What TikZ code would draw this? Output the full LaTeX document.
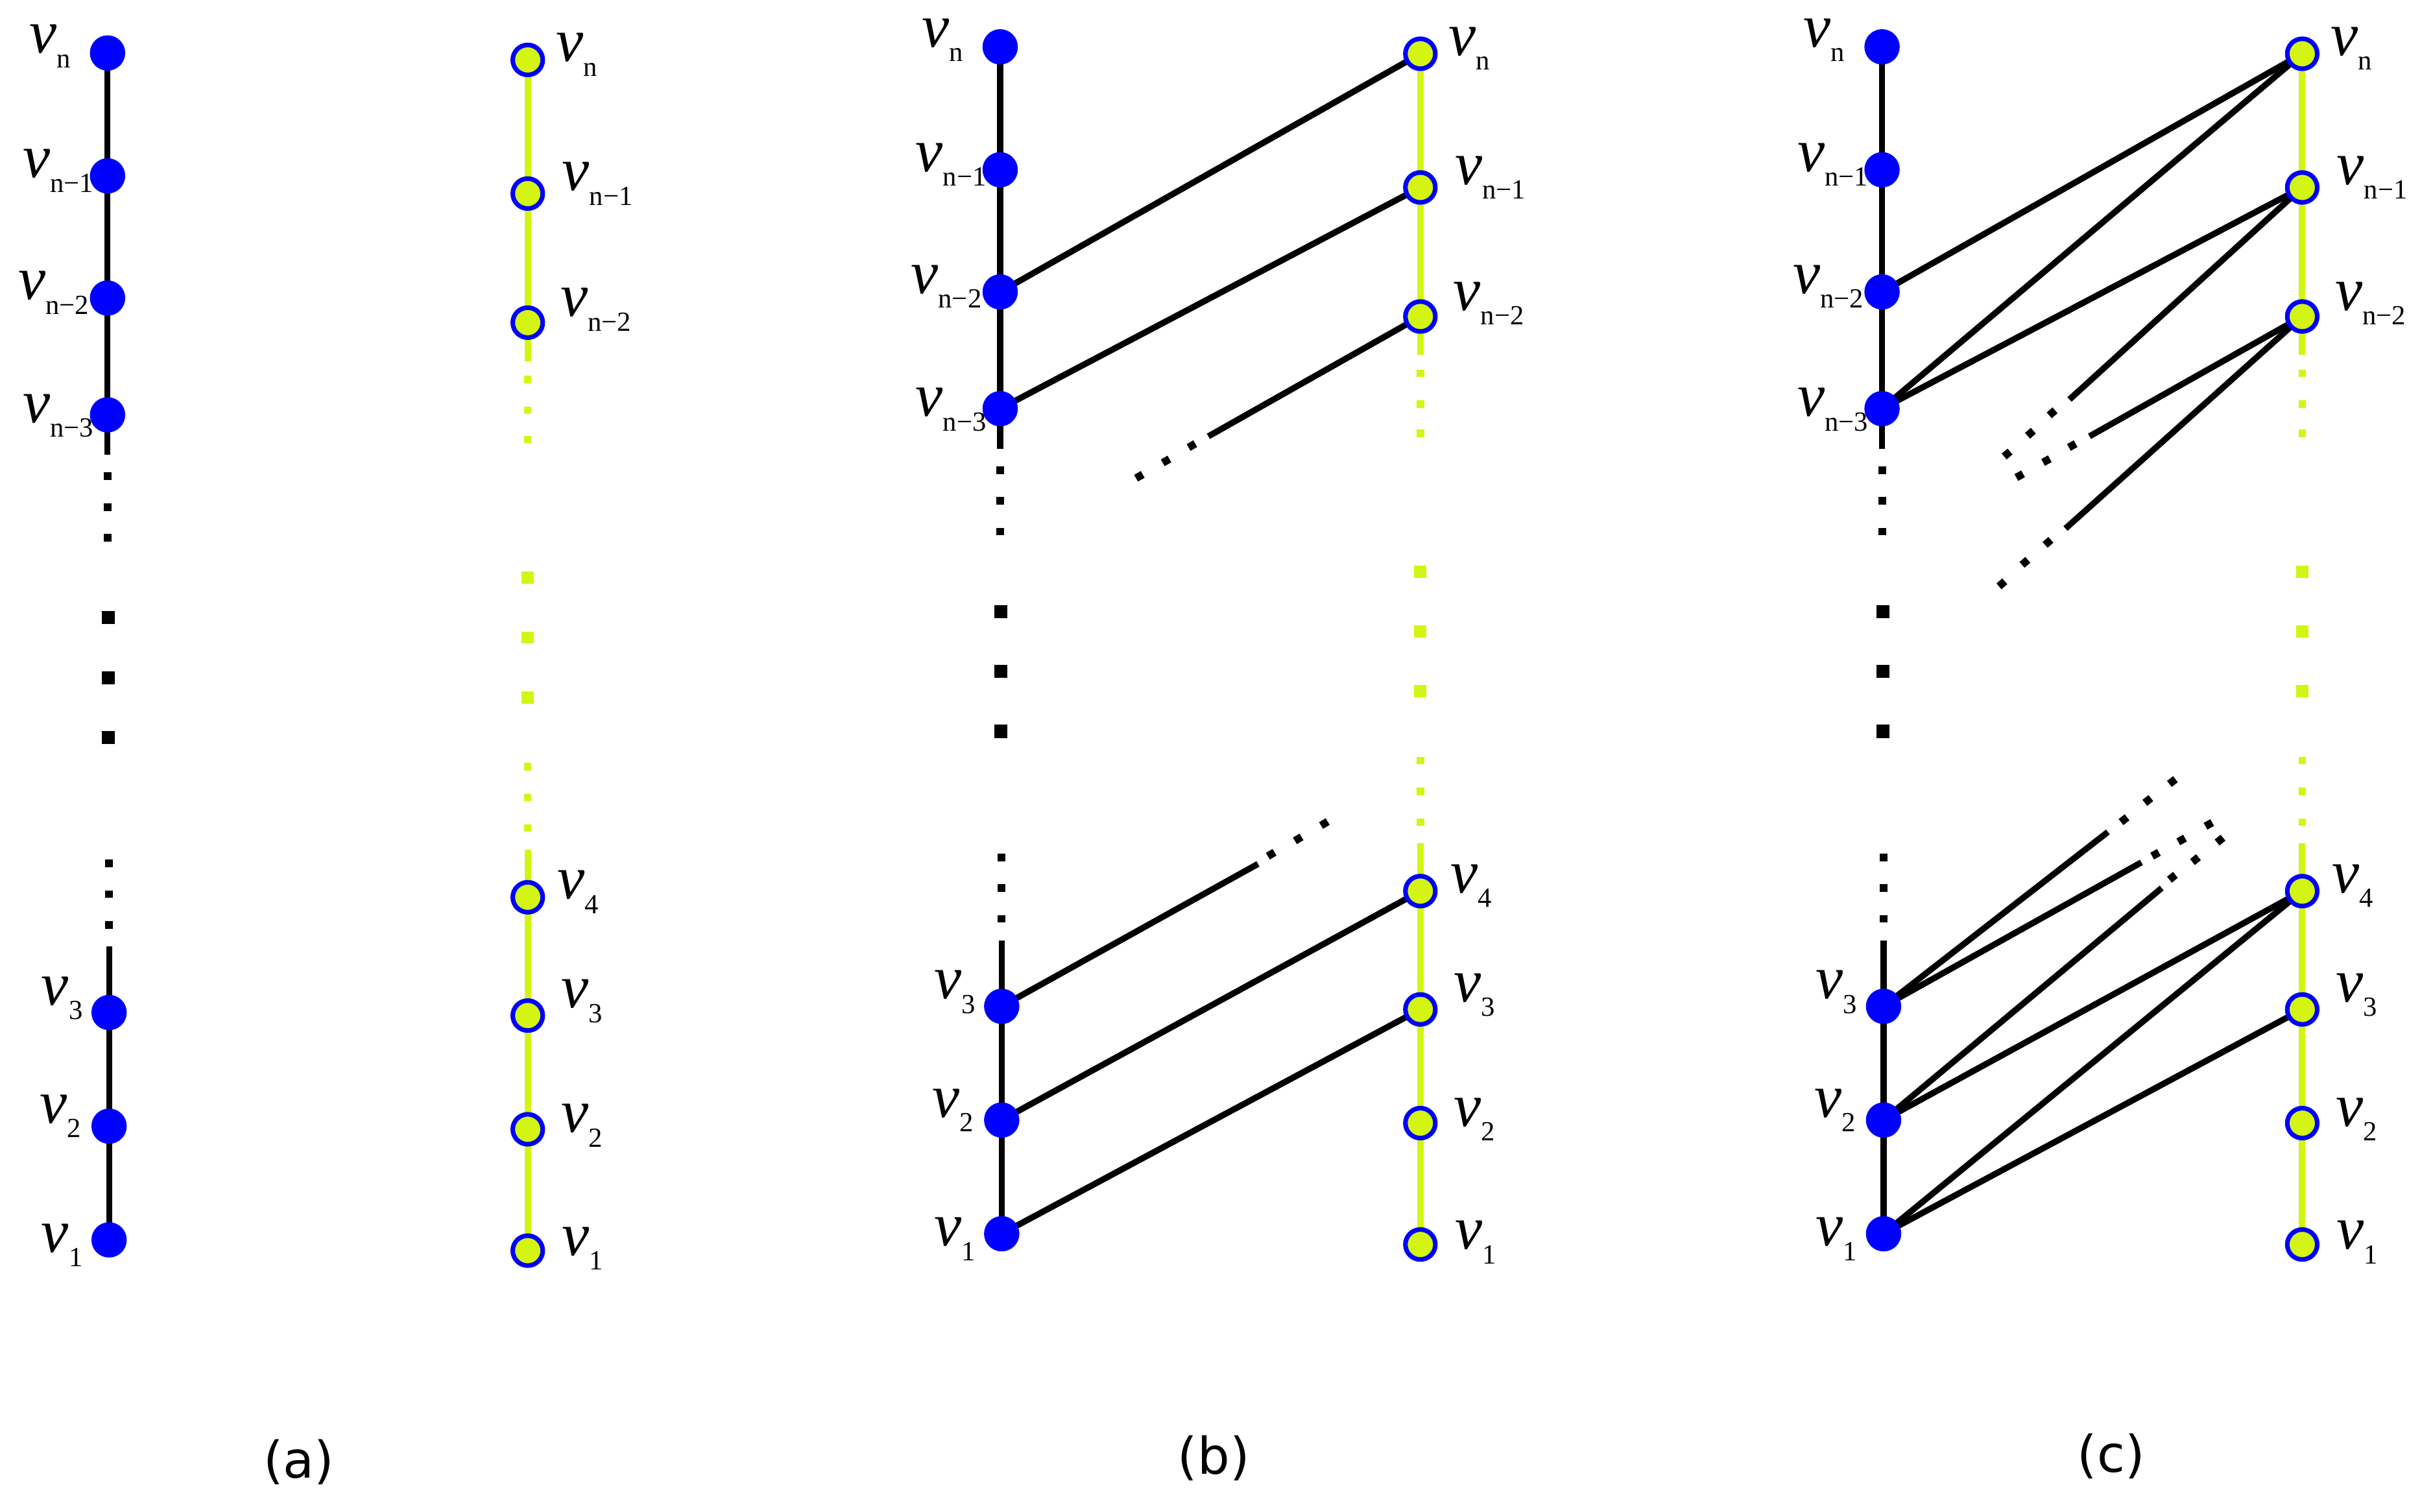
\documentclass[tikz,border=0pt]{standalone}
\usepackage{fontspec}
\setmainfont{Liberation Serif}
\newfontfamily\capfont{DejaVu Sans}
\usetikzlibrary{calc}
\pgfdeclarelayer{paper}
\pgfdeclarelayer{bg}
\pgfsetlayers{paper,bg,main}
\definecolor{ylw}{RGB}{212,245,18}
\definecolor{vblue}{RGB}{0,0,255}
\newcommand\vlab[1]{{\fontsize{40}{40}\selectfont\itshape v}\raisebox{-9.5pt}{\fontsize{18}{18}\selectfont #1}}
\newcommand\sqd[4]{\fill[#4] ({#1-#3/2},{#2-#3/2}) rectangle ({#1+#3/2},{#2+#3/2});}
\newcommand\rdot[3]{\fill[black, rotate around={#3:(#1,#2)}] ({#1-2.5},{#2-2.5}) rectangle ({#1+2.5},{#2+2.5});}
\newcommand\panel[1]{%
  \node[bnode] (#1bn)  at (70,34.5) {};
  \node[bnode] (#1bn1) at (70,114.5) {};
  \node[bnode] (#1bn2) at (70,194) {};
  \node[bnode] (#1bn3) at (70,270) {};
  \node[bnode] (#1b3)  at (71,659) {};
  \node[bnode] (#1b2)  at (71,733) {};
  \node[bnode] (#1b1)  at (71,807) {};
  \coordinate (#1btop) at (70,296);
  \coordinate (#1bbot) at (71,616);
  \node[ynode] (#1yn)  at (343.5,39) {};
  \node[ynode] (#1yn1) at (343.5,126) {};
  \node[ynode] (#1yn2) at (343.5,210) {};
  \node[ynode] (#1y4)  at (343.5,584) {};
  \node[ynode] (#1y3)  at (343.5,661) {};
  \node[ynode] (#1y2)  at (343.5,735) {};
  \node[ynode] (#1y1)  at (343.5,814) {};
  \coordinate (#1ytop) at (343.5,235);
  \coordinate (#1ybot) at (343.5,553);
  \begin{pgfonlayer}{bg}
    \draw[bline] (#1bn.center) -- (#1bn1.center) -- (#1bn2.center) -- (#1bn3.center) -- (#1btop);
    \draw[bline] (#1bbot) -- (#1b3.center) -- (#1b2.center) -- (#1b1.center);
    \draw[yline] (#1yn.center) -- (#1yn1.center) -- (#1yn2.center) -- (#1ytop);
    \draw[yline] (#1ybot) -- (#1y4.center) -- (#1y3.center) -- (#1y2.center) -- (#1y1.center);
  \end{pgfonlayer}
  \sqd{70}{310}{5}{black}\sqd{70}{330}{5}{black}\sqd{70}{350}{5}{black}
  \sqd{70.5}{402}{8.5}{black}\sqd{70.5}{441}{8.5}{black}\sqd{70.5}{480}{8.5}{black}
  \sqd{71}{562}{5}{black}\sqd{71}{582}{5}{black}\sqd{71}{602}{5}{black}
  \sqd{343.5}{247}{4.8}{ylw}\sqd{343.5}{267}{4.8}{ylw}\sqd{343.5}{286}{4.8}{ylw}
  \sqd{343.5}{376}{8}{ylw}\sqd{343.5}{415}{8}{ylw}\sqd{343.5}{454}{8}{ylw}
  \sqd{343.5}{499}{4.8}{ylw}\sqd{343.5}{519}{4.8}{ylw}\sqd{343.5}{539}{4.8}{ylw}
  \node[lab] (#1Lbn)  at (19,34.5)  {\vlab{n}};
  \node[lab] (#1Lbn1) at (15,115.5) {\vlab{n−1}};
  \node[lab] (#1Lbn2) at (12,195)   {\vlab{n−2}};
  \node[lab] (#1Lbn3) at (15,275)   {\vlab{n−3}};
  \node[lab] (#1Lb3)  at (27,654)   {\vlab{3}};
  \node[lab] (#1Lb2)  at (26,731)   {\vlab{2}};
  \node[lab] (#1Lb1)  at (27,815)   {\vlab{1}};
  \node[lab] (#1Lyn)  at (362,40)   {\vlab{n}};
  \node[lab] (#1Lyn1) at (366,124)  {\vlab{n−1}};
  \node[lab] (#1Lyn2) at (365,206)  {\vlab{n−2}};
  \node[lab] (#1Ly4)  at (363,585)  {\vlab{4}};
  \node[lab] (#1Ly3)  at (365.5,656){\vlab{3}};
  \node[lab] (#1Ly2)  at (365.5,737){\vlab{2}};
  \node[lab] (#1Ly1)  at (366,817)  {\vlab{1}};
}
\begin{document}
\begin{tikzpicture}[x=1pt,y=-1pt,
  bnode/.style={circle, fill=vblue, minimum size=23pt, inner sep=0pt},
  ynode/.style={circle, fill=ylw, draw=vblue, line width=3pt, minimum size=19.5pt, inner sep=0pt},
  bline/.style={line width=3.9pt, black},
  yline/.style={line width=4.2pt, ylw},
  edge/.style={line width=4pt, black},
  lab/.style={anchor=base west, inner sep=0pt, outer sep=0pt},
  capstyle/.style={anchor=base, inner sep=0pt, font=\capfont\fontsize{33}{33}\selectfont}]
\useasboundingbox (0,0) rectangle (1568,984);
\begin{pgfonlayer}{paper}
\fill[white] (0,0) rectangle (1568,984);
\end{pgfonlayer}
\begin{scope}\panel{a}\end{scope}
\begin{scope}[shift={(581,-4)}]\panel{b}\end{scope}
\begin{scope}[shift={(1155,-4)}]\panel{c}\end{scope}
% partial end points
\coordinate (bE1) at (786.5,284);
\coordinate (bE2) at (818.8,562.3);
\coordinate (cE1) at (1347,260);
\coordinate (cE2) at (1360,284);
\coordinate (cE3) at (1344.4,344);
\coordinate (cE4) at (1372,541.5);
\coordinate (cE5) at (1393.8,561.3);
\coordinate (cE6) at (1407,578);
\begin{pgfonlayer}{bg}
  % (b)
  \draw[edge] (bbn2.center) -- (byn.center);
  \draw[edge] (bbn3.center) -- (byn1.center);
  \draw[edge] (bb2.center) -- (by4.center);
  \draw[edge] (bb1.center) -- (by3.center);
  \draw[edge] (byn2.center) -- (bE1);
  \draw[edge] (bb3.center) -- (bE2);
  % (c)
  \draw[edge] (cbn2.center) -- (cyn.center);
  \draw[edge] (cbn3.center) -- (cyn.center);
  \draw[edge] (cbn3.center) -- (cyn1.center);
  \draw[edge] (cb2.center) -- (cy4.center);
  \draw[edge] (cb1.center) -- (cy4.center);
  \draw[edge] (cb1.center) -- (cy3.center);
  \draw[edge] (cyn1.center) -- (cE1);
  \draw[edge] (cyn2.center) -- (cE2);
  \draw[edge] (cyn2.center) -- (cE3);
  \draw[edge] (cb3.center) -- (cE4);
  \draw[edge] (cb3.center) -- (cE5);
  \draw[edge] (cb2.center) -- (cE6);
\end{pgfonlayer}
% dotted continuations
\rdot{775.8}{290}{30}\rdot{759}{300}{30}\rdot{741.6}{310}{30}
\rdot{827.4}{556}{31}\rdot{845}{546}{31}\rdot{862}{536}{31}
\rdot{1335.7}{268.7}{41}\rdot{1321.6}{282}{41}\rdot{1306.4}{295.5}{41}
\rdot{1348.8}{290}{29}\rdot{1332}{299.8}{29}\rdot{1314.6}{309.6}{29}
\rdot{1333}{353}{41}\rdot{1318}{366}{41}\rdot{1303}{380}{41}
\rdot{1382.5}{533.5}{38}\rdot{1398}{521}{38}\rdot{1414}{508.7}{38}
\rdot{1403}{556}{29}\rdot{1420}{546.7}{29}\rdot{1437.7}{536.6}{29}
\rdot{1414}{571}{39}\rdot{1429}{559.5}{39}\rdot{1445}{546.8}{39}
% captions
\node[capstyle] (capa) at (194.5,962) {(a)};
\node[capstyle] (capb) at (790,959.5) {(b)};
\node[capstyle] (capc) at (1374,958) {(c)};
\end{tikzpicture}
\end{document}
